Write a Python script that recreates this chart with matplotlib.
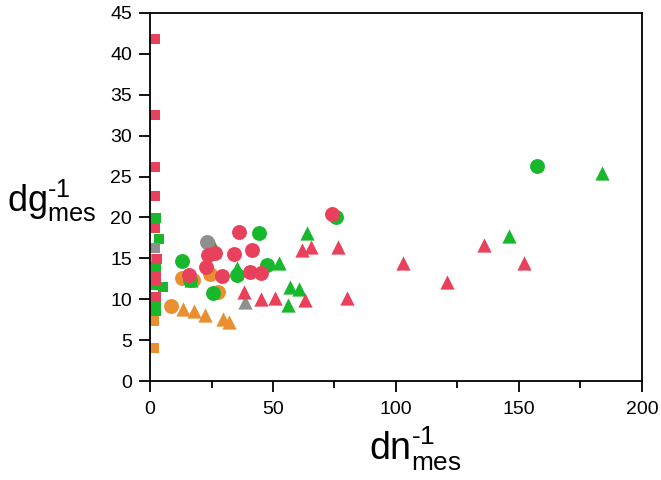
import matplotlib
matplotlib.use("Agg")
import matplotlib.pyplot as plt
from matplotlib.ticker import MultipleLocator

plt.rcParams['font.family'] = ['Liberation Sans', 'DejaVu Sans']
plt.rcParams['mathtext.fontset'] = 'custom'
plt.rcParams['mathtext.rm'] = 'Liberation Sans'
plt.rcParams['mathtext.it'] = 'Liberation Sans'
plt.rcParams['mathtext.sf'] = 'Liberation Sans'

RED = '#E9405B'
GREEN = '#17B82B'
ORANGE = '#E98F2F'
GRAY = '#8F8F8F'

# squares (near x = 0)
orange_sq_x = [1.6, 1.6, 1.6, 1.6, 1.6]
orange_sq_y = [14.9, 9.0, 8.2, 7.3, 4.0]
green_sq_x = [2.4, 3.8, 2.6, 2.2, 5.3, 2.6, 2.4]
green_sq_y = [19.9, 17.4, 13.9, 11.7, 11.5, 9.8, 8.6]
gray_sq_x = [2.2]
gray_sq_y = [16.3]
red_sq_x = [2.2, 2.2, 2.2, 2.2, 2.2, 3.0, 2.6, 2.6, 2.6]
red_sq_y = [41.8, 32.5, 26.2, 22.6, 18.7, 14.9, 12.9, 12.4, 10.3]

# circles
orange_ci_x = [12.8, 17.3, 24.2, 27.6, 8.7]
orange_ci_y = [12.6, 12.4, 13.1, 10.9, 9.2]
green_ci_x = [13.0, 16.3, 25.4, 35.2, 44.2, 47.7, 75.6, 157.3]
green_ci_y = [14.7, 12.4, 10.8, 13.0, 18.1, 14.2, 20.1, 26.3]
gray_ci_x = [23.2]
gray_ci_y = [17.0]
red_ci_x = [15.9, 22.6, 23.6, 26.6, 29.3, 34.1, 36.3, 40.7, 41.6, 45.3, 74.0]
red_ci_y = [13.0, 13.9, 15.4, 15.7, 12.8, 15.5, 18.2, 13.3, 16.0, 13.2, 20.4]

# triangles
orange_tr_x = [13.5, 18.0, 22.4, 29.6, 32.2]
orange_tr_y = [8.8, 8.6, 8.1, 7.6, 7.2]
green_tr_x = [16.5, 25.5, 35.5, 52.4, 56.1, 56.9, 60.6, 63.8, 146.0, 183.7]
green_tr_y = [12.3, 16.6, 13.8, 14.4, 9.3, 11.5, 11.3, 18.1, 17.7, 25.4]
gray_tr_x = [38.6]
gray_tr_y = [9.7]
red_tr_x = [38.2, 45.0, 50.8, 61.8, 63.0, 65.4, 76.4, 80.0, 102.8, 120.7, 135.8, 152.0]
red_tr_y = [10.9, 10.0, 10.2, 16.0, 9.9, 16.4, 16.4, 10.1, 14.4, 12.1, 16.6, 14.4]

fig = plt.figure(figsize=(6.61, 4.80), dpi=100)
ax = fig.add_axes([0.227, 0.206, 0.744, 0.767])

SQ = 55
CI = 115
TR = 105

groups = [
    (ORANGE, orange_sq_x, orange_sq_y, orange_ci_x, orange_ci_y, orange_tr_x, orange_tr_y),
    (GREEN, green_sq_x, green_sq_y, green_ci_x, green_ci_y, green_tr_x, green_tr_y),
    (GRAY, gray_sq_x, gray_sq_y, gray_ci_x, gray_ci_y, gray_tr_x, gray_tr_y),
    (RED, red_sq_x, red_sq_y, red_ci_x, red_ci_y, red_tr_x, red_tr_y),
]
for col, sx, sy, cx, cy, tx, ty in groups:
    ax.scatter(tx, ty, s=TR, marker='^', color=col, linewidths=0, clip_on=False, zorder=2)
    ax.scatter(cx, cy, s=CI, marker='o', color=col, linewidths=0, clip_on=False, zorder=2)
    ax.scatter(sx, sy, s=SQ, marker='s', color=col, linewidths=0, clip_on=False, zorder=2)

ax.set_xlim(0, 200)
ax.set_ylim(0, 45)
ax.xaxis.set_major_locator(MultipleLocator(50))
ax.xaxis.set_minor_locator(MultipleLocator(25))
ax.yaxis.set_major_locator(MultipleLocator(5))

for sp in ax.spines.values():
    sp.set_linewidth(1.3)
    sp.set_zorder(3)

ax.tick_params(axis='both', which='major', direction='out', length=8, width=1.3,
               labelsize=14, pad=5)
ax.tick_params(axis='x', which='major', pad=6)
ax.tick_params(axis='x', which='minor', direction='out', length=5, width=1.3)
ax.tick_params(top=False, right=False)

ax.set_xlabel(r'$\mathrm{dn}_{\mathrm{mes}}^{\text{-1}}$', fontsize=27)
ax.xaxis.set_label_coords(0.54, -0.12)
ax.set_ylabel(r'$\mathrm{dg}_{\mathrm{mes}}^{\text{-1}}$', fontsize=26, rotation=0,
              ha='right', va='center')
ax.yaxis.set_label_coords(-0.11, 0.49)

fig.savefig('out.png', dpi=100)
